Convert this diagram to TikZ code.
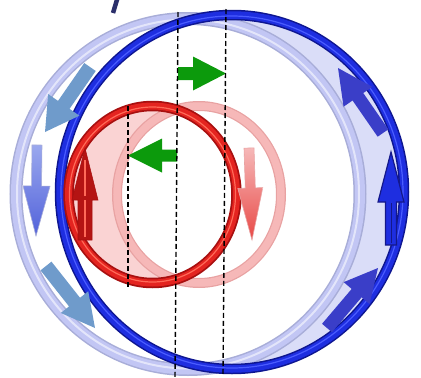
\documentclass[tikz,border=0pt]{standalone}
\usetikzlibrary{calc}
\definecolor{ringblue}{HTML}{1E2EE0}
\definecolor{ringblueD}{HTML}{0E1690}
\definecolor{ringblueH}{HTML}{4A5CFF}
\definecolor{paleblue}{HTML}{C2C6F4}
\definecolor{paleblueD}{HTML}{A8ADD8}
\definecolor{lightfill}{HTML}{DADDF8}
\definecolor{ringred}{HTML}{E42420}
\definecolor{ringredD}{HTML}{A81010}
\definecolor{ringredH}{HTML}{FF6A58}
\definecolor{palered}{HTML}{F6B8B8}
\definecolor{paleredD}{HTML}{E8A2A2}
\definecolor{pinkfill}{HTML}{FAD3D3}
\definecolor{agreen}{HTML}{0C9A0C}
\definecolor{steel}{HTML}{6F9BCB}
\definecolor{darkarrow}{HTML}{3A3EC8}
\definecolor{navy}{HTML}{14188A}
\definecolor{glyph}{HTML}{2B2F6B}
\definecolor{vtop}{HTML}{9AA8EE}
\definecolor{vbot}{HTML}{5262DA}
\newcommand{\myarrow}[6]{%
  \coordinate (t) at (#1); \coordinate (p) at (#2);
  \coordinate (b) at ($(p)!#5!(t)$);
  \path[#6] ($(t)!#3!90:(p)$) -- ($(b)!#3!90:(p)$) -- ($(b)!#4!90:(p)$) -- (p)
    -- ($(b)!#4!-90:(p)$) -- ($(b)!#3!-90:(p)$) -- ($(t)!#3!-90:(p)$) -- cycle;}
\tikzset{
  dline/.style={black, line width=1.4pt, dash pattern=on 5pt off 3pt},
}
\begin{document}
\begin{tikzpicture}[x=1pt,y=-1pt]
\useasboundingbox (0,0) rectangle (421,378);
% glyph fragment at top
\draw[glyph, line width=4.5pt] (117.5,-2) -- (113,13);
% light blue crescent
\begin{scope}
  \clip (232,192) ellipse [x radius=172pt, y radius=177pt];
  \fill[lightfill, even odd rule] (-10,-10) rectangle (430,390)
     (188,194) ellipse [x radius=172pt, y radius=175.5pt];
\end{scope}
% pale blue ring
\draw[paleblueD, line width=13pt] (188,194) ellipse [x radius=172pt, y radius=175.5pt];
\draw[paleblue, line width=10pt] (188,194) ellipse [x radius=172pt, y radius=175.5pt];
\draw[white!55!paleblue, line width=2pt] (188,194) ellipse [x radius=171pt, y radius=174.5pt];
% dark blue ring
\draw[ringblueD, line width=10.5pt] (232,192) ellipse [x radius=172pt, y radius=177pt];
\draw[ringblue, line width=7.5pt] (232,192) ellipse [x radius=172pt, y radius=177pt];
\draw[ringblueH, line width=1.2pt] (232,192) ellipse [x radius=171pt, y radius=176pt];
% pink crescent
\begin{scope}
  \clip (152.5,194.5) ellipse [x radius=84pt, y radius=88.5pt];
  \fill[pinkfill, even odd rule] (-10,-10) rectangle (430,390)
     (199,194.5) ellipse [x radius=82pt, y radius=88.5pt];
\end{scope}
% pale red ring
\draw[paleredD, line width=10pt] (199,194.5) ellipse [x radius=82pt, y radius=88.5pt];
\draw[palered, line width=7.5pt] (199,194.5) ellipse [x radius=82pt, y radius=88.5pt];
% red ring
\draw[ringredD, line width=10.5pt] (152.5,194.5) ellipse [x radius=84pt, y radius=88.5pt];
\draw[ringred, line width=7pt] (152.5,194.5) ellipse [x radius=84pt, y radius=88.5pt];
\draw[ringredH, line width=1.2pt] (152.5,194.5) ellipse [x radius=83pt, y radius=87.5pt];
% steel blue arrows
\myarrow{90,67}{45,132}{7pt}{19pt}{33pt}{fill=steel}
\myarrow{46,266}{95,328}{7pt}{17.5pt}{33pt}{fill=steel}
% dark blue arrows
\myarrow{383,133}{338,68}{6.5pt}{17.5pt}{35pt}{fill=darkarrow}
\myarrow{327,328}{378,268}{6.5pt}{17pt}{33pt}{fill=darkarrow}
% vertical arrows
\myarrow{37,145}{36,236}{5pt}{13.5pt}{50pt}{top color=vtop, bottom color=vbot, draw=paleblueD, line width=0.6pt}
\myarrow{85,240}{85,148}{7pt}{13pt}{52pt}{fill=ringredD!80!ringred, draw=ringredD, line width=0.6pt}
\draw[ringredH, line width=2pt] (85,237) -- (85,200) (85,196) -- (85,160);
\myarrow{249,148}{252,240}{5pt}{12.5pt}{52pt}{top color=palered, bottom color=ringred!75!palered, draw=paleredD, line width=0.6pt}
\myarrow{391,245}{391,152}{5.5pt}{13pt}{50pt}{fill=ringblue, draw=navy, line width=1.2pt}
\draw[navy, line width=1pt] (391,243) -- (391,203);
% green arrows
\myarrow{178,73.5}{226,73.5}{6.5pt}{17pt}{33pt}{fill=agreen}
\myarrow{177,155.5}{128,155.5}{6pt}{17pt}{34pt}{fill=agreen}
% dashed lines
\draw[dline] (128,106) -- (128,289);
\draw[dline] (178,12) -- (175,378);
\draw[dline] (226,9) -- (223,375);
\end{tikzpicture}
\end{document}
